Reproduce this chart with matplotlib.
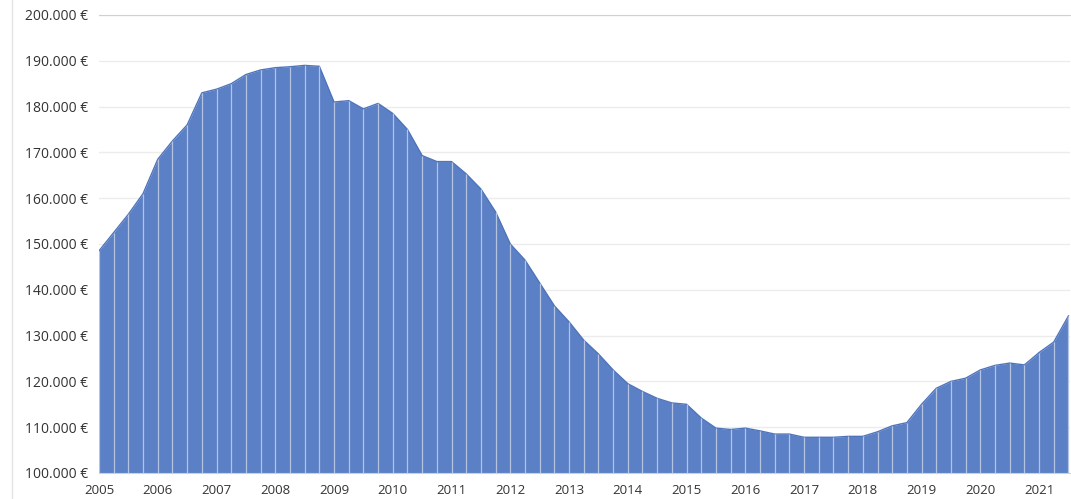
import numpy as np
import matplotlib.pyplot as plt

# quarterly average price, 2005 Q1 .. 2021 Q3
years = list(range(2005, 2022))
prices = [148500, 152500, 156500, 161000,
          168500, 172500, 176000, 183000,
          183800, 185000, 187000, 188000,
          188500, 188700, 189000, 188800,
          181000, 181300, 179500, 180700,
          178500, 175000, 169300, 168000,
          168000, 165300, 162000, 157000,
          150000, 146500, 141500, 136500,
          133000, 129000, 126000, 122500,
          119500, 117800, 116300, 115300,
          115000, 112000, 109800, 109500,
          109800, 109200, 108500, 108500,
          107800, 107800, 107800, 108000,
          108000, 109000, 110300, 111000,
          115000, 118500, 120000, 120700,
          122500, 123500, 124000, 123600,
          126300, 128600, 134300]
y_ticks = list(range(100000, 200001, 10000))

x = np.arange(len(prices))
prices = np.array(prices)

fig = plt.figure(figsize=(10.71, 4.99), dpi=100)
ax = fig.add_axes([99 / 1071, 1 - 473 / 499, 1 - 99 / 1071 - 0.001, (473 - 15) / 499])

ax.fill_between(x, 100000, prices, color="#5b80c6", linewidth=0, zorder=2)
ax.plot(x, prices, color="#4f74ba", linewidth=1.0, zorder=3)
ax.vlines(x, 100000, prices, color="#b4c3e0", linewidth=0.9, zorder=3)

ax.set_ylim(100000, 200000)
ax.set_xlim(0, len(prices) - 0.9)
ax.set_yticks(y_ticks)
ax.set_yticklabels([f"{v:,.0f} €".replace(",", ".") for v in y_ticks])
ax.set_xticks(np.arange(0, len(prices), 4))
ax.set_xticklabels([str(y) for y in years])

ax.grid(axis="y", color="#ececec", linewidth=1.0, zorder=0)
for s in ["left", "right"]:
    ax.spines[s].set_visible(False)
ax.spines["top"].set_color("#d0d0d0")
ax.spines["bottom"].set_color("#d0d0d0")
ax.tick_params(length=0, labelcolor="#333333")
ax.tick_params(axis="y", labelsize=10, pad=8)
ax.tick_params(axis="x", labelsize=9.5, pad=8)
for lab in ax.get_yticklabels() + ax.get_xticklabels():
    lab.set_fontfamily("Open Sans")

# faint chart border on the left
fig.add_artist(plt.Line2D([12 / 1071, 12 / 1071], [0, 1], color="#e4e4e4", linewidth=1))

fig.savefig("out.png", dpi=100)
